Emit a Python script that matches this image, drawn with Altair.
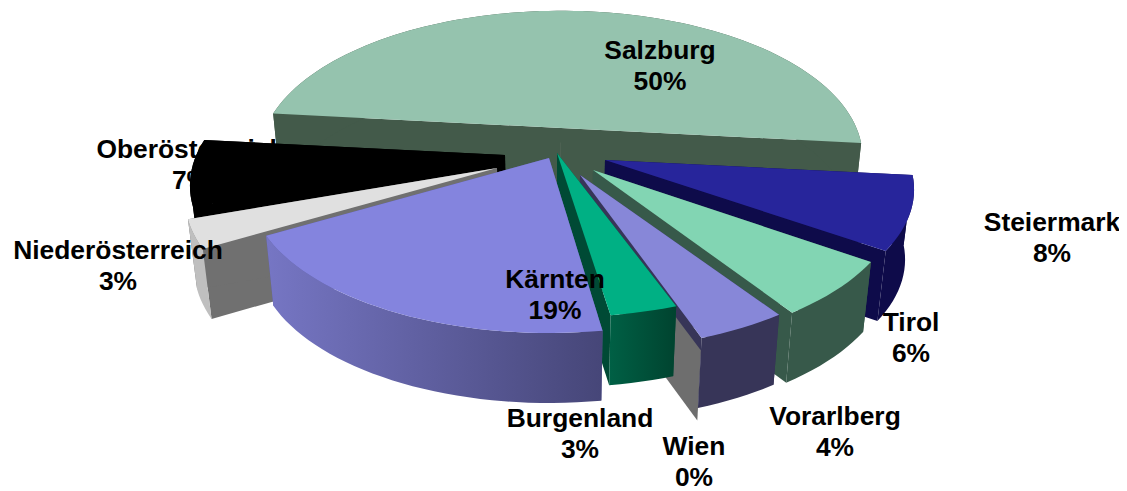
import math
import altair as alt
import pandas as pd

# --- chart values -------------------------------------------------------
names = ["Salzburg", "Steiermark", "Tirol", "Vorarlberg", "Wien", "Burgenland",
         "Kärnten", "Niederösterreich", "Oberösterreich"]
shares = [50, 8, 6, 4, 0, 3, 19, 3, 7]

# --- styling / projection parameters ------------------------------------
W, H = 1127, 491
RX, RY, PERSP, DEPTH, VANISH_X, CONVERGE = 294.0, 140.0, 0.2, 70.0, 555.0, 0.975
apex = {"Salzburg": (561, 128), "Steiermark": (605, 160), "Tirol": (593, 170),
        "Vorarlberg": (580, 175), "Wien": (577, 186), "Burgenland": (557, 153),
        "Kärnten": (549, 158), "Niederösterreich": (497, 168),
        "Oberösterreich": (505, 155)}
radius = {"Salzburg": 1.005, "Steiermark": 1.03, "Tirol": 1.02, "Vorarlberg": 1.02, "Wien": 1.04,
          "Niederösterreich": 1.04, "Oberösterreich": 1.05}
radius_y = {"Burgenland": 0.94, "Vorarlberg": 0.98, "Wien": 0.97, "Steiermark": 0.98,
            "Niederösterreich": 1.0, "Oberösterreich": 1.0}
top_col = {"Salzburg": "#95C3AE", "Steiermark": "#27259B", "Tirol": "#82D5B3",
           "Vorarlberg": "#8787D8", "Wien": "#6E6E6E", "Burgenland": "#00B084",
           "Kärnten": "#8484DE", "Niederösterreich": "#E0E0E0",
           "Oberösterreich": "#000000"}
wall_col = {"Salzburg": "#435A4A", "Steiermark": "#0E0B4A", "Tirol": "#37594A",
            "Vorarlberg": "#373558", "Wien": "#6E6E6E", "Burgenland": "#004A35",
            "Kärnten": "#5A5A9A", "Niederösterreich": "#BFBFBF",
            "Oberösterreich": "#000000"}
cut_col = dict(wall_col)
cut_col["Niederösterreich"] = "#707070"
grad = {
    "Kärnten": alt.LinearGradient(gradient="linear", x1=0, x2=1, y1=0, y2=0,
                                  stops=[alt.GradientStop(offset=0, color="#7676C4"),
                                         alt.GradientStop(offset=1, color="#464678")]),
    "Burgenland": alt.LinearGradient(gradient="linear", x1=0, x2=1, y1=0, y2=0,
                                     stops=[alt.GradientStop(offset=0, color="#006045"),
                                            alt.GradientStop(offset=1, color="#00432F")]),
}
label_pos = {"Salzburg": (660, 66), "Steiermark": (1052, 238), "Tirol": (911, 338),
             "Vorarlberg": (835, 432), "Wien": (694, 462), "Burgenland": (580, 434),
             "Kärnten": (555, 295), "Niederösterreich": (118, 266),
             "Oberösterreich": (191, 165)}
FONT, FS, LEAD = "Liberation Sans", 26.4, 31

X = alt.Scale(domain=[8, W - 8])
Y = alt.Scale(domain=[H, 8])


def rim(name, deg):
    a = math.radians(deg)
    cx, cy = apex[name]
    k = radius.get(name, 1.0)
    ky = k * radius_y.get(name, 1.0)
    sy = math.sin(a)
    s = 1.0 / (1.0 + PERSP * sy)
    return cx + k * RX * math.cos(a) * s, cy - ky * RY * sy * s


def drop(p):
    return VANISH_X + (p[0] - VANISH_X) * CONVERGE, p[1] + DEPTH


def poly(points, fill):
    df = pd.DataFrame({"px": [p[0] for p in points], "py": [p[1] for p in points],
                       "i": range(len(points))})
    return alt.Chart(df).mark_line(fill=fill, stroke=None, strokeWidth=0, interpolate="linear").encode(
        x=alt.X("px:Q", scale=X, axis=None),
        y=alt.Y("py:Q", scale=Y, axis=None),
        order="i:Q",
    )


def labels(name):
    x, y = label_pos[name]
    share = shares[names.index(name)]
    df = pd.DataFrame({"px": [x, x], "py": [y - LEAD / 2, y + LEAD / 2],
                       "t": [name, f"{share}%"]})
    return alt.Chart(df).mark_text(font=FONT, fontSize=FS, fontWeight="bold", color="#000000",
                                   align="center", baseline="middle").encode(
        x=alt.X("px:Q", scale=X, axis=None),
        y=alt.Y("py:Q", scale=Y, axis=None),
        text="t:N",
    )


# angles from the shares
spans = {}
ang = -6.0 + 180.0
for n, v in zip(names, shares):
    spans[n] = (ang, ang - v * 3.6)
    ang -= v * 3.6


def slice_layers(name):
    a0, a1 = spans[name]
    ap = apex[name]
    steps = max(2, int(abs(a0 - a1) / 2) + 1)
    arc = [rim(name, a0 + (a1 - a0) * i / steps) for i in range(steps + 1)]
    out = []
    # straight cut faces
    for corner in (arc[0], arc[-1]):
        out.append(poly([ap, corner, drop(corner), drop(ap)], cut_col[name]))
    if name != "Wien":
        wall = arc + [drop(p) for p in reversed(arc)]
        out.append(poly(wall, grad.get(name, wall_col[name])))
        out.append(poly([ap] + arc, top_col[name]))
    return out


layers = [labels("Oberösterreich")]
for n in ["Salzburg", "Oberösterreich", "Niederösterreich", "Steiermark", "Tirol"]:
    layers += slice_layers(n)
# Vorarlberg: the grey zero-share Wien plane lies over its cut face, under its rim
v = slice_layers("Vorarlberg")
layers += v[:2] + slice_layers("Wien")[:1] + v[2:]
for n in ["Burgenland", "Kärnten"]:
    layers += slice_layers(n)
for n in ["Salzburg", "Steiermark", "Tirol", "Vorarlberg", "Wien", "Burgenland",
          "Kärnten", "Niederösterreich"]:
    layers.append(labels(n))

chart = alt.layer(*layers).properties(
    width=W - 16, height=H - 8, padding=0,
    autosize=alt.AutoSizeParams(type="none"),
    background="#FFFFFF",
).configure_view(stroke=None)

chart.save("out.html", embed_options={"renderer": "svg", "actions": False})
